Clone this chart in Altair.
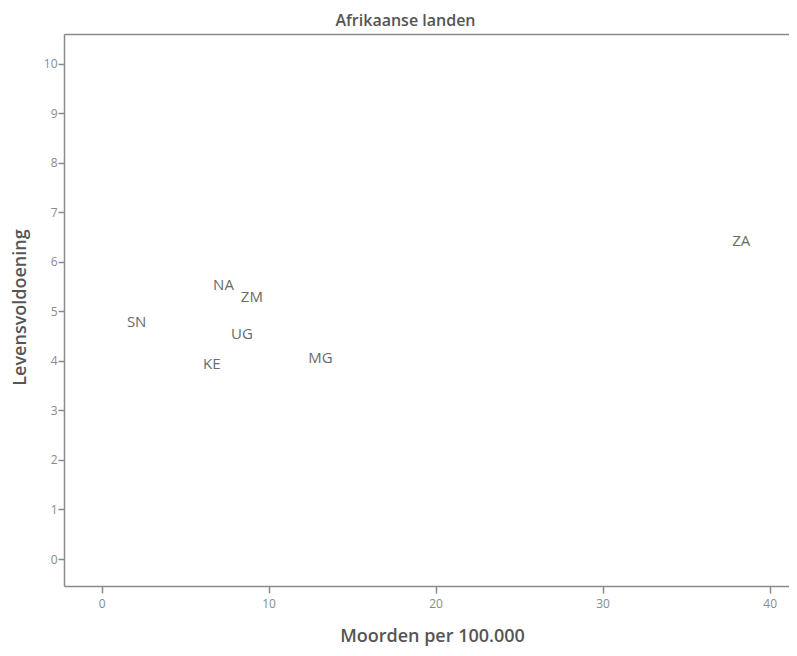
import altair as alt
import pandas as pd

countries = ["SN", "NA", "ZM", "UG", "KE", "MG", "ZA"]
murders = [2.1, 7.3, 9.0, 8.4, 6.6, 13.1, 38.3]
satisfaction = [4.79, 5.53, 5.29, 4.54, 3.94, 4.06, 6.42]

x_ticks = [0, 10, 20, 30, 40]
y_ticks = list(range(0, 11))

df = pd.DataFrame({"land": countries, "moord": murders, "tevr": satisfaction})

FONT = "Open Sans"
GRAY = "#8a8a8a"
XDOM = [-2.25, 41.16]
YDOM = [-0.545, 10.6]

labels = alt.Chart(df).mark_text(
    font=FONT, fontSize=15, color="#6a6a6a", align="center", baseline="middle"
).encode(
    x=alt.X("moord:Q",
            scale=alt.Scale(domain=XDOM, nice=False, zero=False),
            axis=alt.Axis(values=x_ticks, title="Moorden per 100.000", grid=False,
                          orient="bottom",
                          tickSize=7, tickWidth=1.5, tickColor=GRAY,
                          domainColor=GRAY, domainWidth=1.5,
                          labelFont=FONT, labelFontSize=12, labelColor=GRAY,
                          labelPadding=5,
                          titleFont=FONT, titleFontSize=18, titleFontWeight=600,
                          titleColor="#555555", titleX=368, titleY=50,
                          titleBaseline="middle")),
    y=alt.Y("tevr:Q",
            scale=alt.Scale(domain=YDOM, nice=False, zero=False),
            axis=alt.Axis(values=y_ticks, title="Levensvoldoening", grid=False,
                          tickSize=6, tickWidth=1.5, tickColor=GRAY,
                          domainColor=GRAY, domainWidth=1.5,
                          labelFont=FONT, labelFontSize=12, labelColor=GRAY,
                          labelPadding=1,
                          titleFont=FONT, titleFontSize=18, titleFontWeight=600,
                          titleColor="#555555", titleX=-44, titleY=273,
                          titleBaseline="middle", titleAngle=-90)),
    text="land:N",
)

frame_top = alt.Chart(df).mark_point(opacity=0).encode(
    x=alt.X("moord:Q",
            scale=alt.Scale(domain=XDOM, nice=False, zero=False),
            axis=alt.Axis(orient="top", labels=False, ticks=False, grid=False,
                          title=None, domainColor=GRAY, domainWidth=1.5)),
)

chart = alt.layer(labels, frame_top).resolve_axis(x="independent").properties(
    width=725,
    height=552,
    title=alt.TitleParams("Afrikaanse landen", font=FONT, fontSize=16,
                          fontWeight=600, color="#555555", anchor="middle",
                          dx=-21, offset=5),
    autosize=alt.AutoSizeParams(type="none"),
    padding={"left": 56, "top": 26, "right": 0, "bottom": 62},
).configure_view(stroke=None)

chart.save("out.html", embed_options={"renderer": "svg", "actions": False})
